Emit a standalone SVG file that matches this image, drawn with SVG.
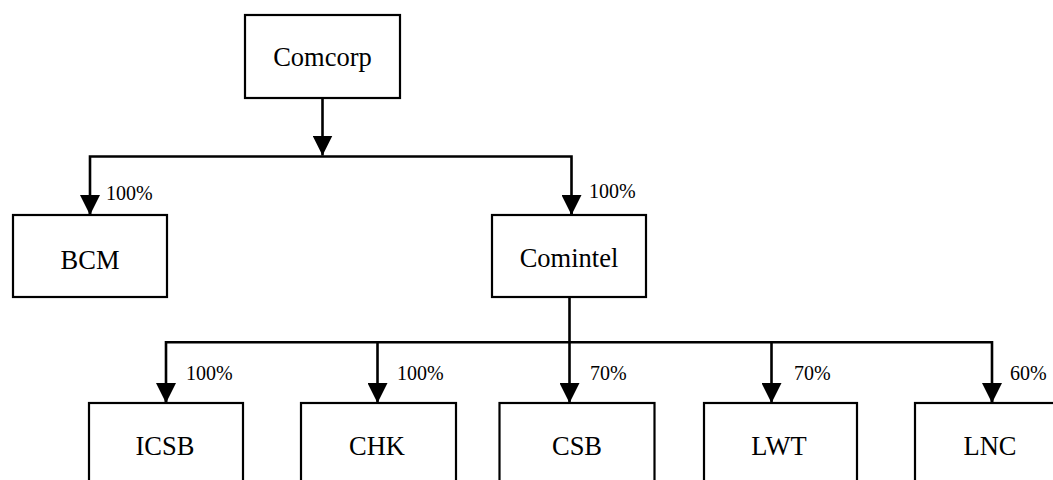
<svg xmlns="http://www.w3.org/2000/svg" width="1053" height="480" viewBox="0 0 1053 480">
<defs>
<style>
.box{fill:#fff;stroke:#000;stroke-width:2.2}
.lbl{font-family:"Liberation Serif",serif;font-size:26.5px;fill:#000;text-anchor:middle}
.pct{font-family:"Liberation Serif",serif;font-size:20px;fill:#000}
.ln{stroke:#000;stroke-width:2.6;fill:none}
</style>
<marker id="arr" viewBox="0 0 10 10" refX="10" refY="5" markerWidth="20" markerHeight="20" markerUnits="userSpaceOnUse" orient="auto">
<path d="M0,0 L10,5 L0,10 Z" fill="#000"/>
</marker>
</defs>
<rect width="1053" height="480" fill="#fff"/>
<g id="connectors">
<line class="ln" x1="322.5" y1="98" x2="322.5" y2="155.5" marker-end="url(#arr)"/>
<polyline class="ln" points="90,215 90,156.5 571.5,156.5 571.5,215"/>
<path class="ln" d="M90,195 V215" marker-end="url(#arr)"/>
<path class="ln" d="M571.5,195 V215" marker-end="url(#arr)"/>
<line class="ln" x1="569.5" y1="297" x2="569.5" y2="403" marker-end="url(#arr)"/>
<polyline class="ln" points="166,403 166,342.3 992,342.3 992,403"/>
<path class="ln" d="M166,383 V403" marker-end="url(#arr)"/>
<path class="ln" d="M377.5,342.3 V403" marker-end="url(#arr)"/>
<path class="ln" d="M771.5,342.3 V403" marker-end="url(#arr)"/>
<path class="ln" d="M992,383 V403" marker-end="url(#arr)"/>
<text class="pct" x="106" y="200">100%</text>
<text class="pct" x="589" y="198">100%</text>
<text class="pct" x="186" y="380">100%</text>
<text class="pct" x="397" y="380">100%</text>
<text class="pct" x="590" y="380">70%</text>
<text class="pct" x="794" y="380">70%</text>
<text class="pct" x="1010" y="380">60%</text>
</g>
<g id="comcorp"><rect class="box" x="245" y="15" width="155" height="83"/><text class="lbl" x="322.5" y="66">Comcorp</text></g>
<g id="bcm"><rect class="box" x="13" y="215" width="154" height="82"/><text class="lbl" x="90" y="269">BCM</text></g>
<g id="comintel"><rect class="box" x="492" y="215" width="154" height="82"/><text class="lbl" x="569" y="267">Comintel</text></g>
<g id="icsb"><rect class="box" x="89" y="403" width="154" height="82"/><text class="lbl" x="165" y="455">ICSB</text></g>
<g id="chk"><rect class="box" x="301" y="403" width="155" height="82"/><text class="lbl" x="377" y="455">CHK</text></g>
<g id="csb"><rect class="box" x="499.5" y="403" width="155" height="82"/><text class="lbl" x="577" y="455">CSB</text></g>
<g id="lwt"><rect class="box" x="704" y="403" width="153" height="82"/><text class="lbl" x="779" y="455">LWT</text></g>
<g id="lnc"><rect class="box" x="915" y="403" width="155" height="82"/><text class="lbl" x="990" y="455">LNC</text></g>
</svg>
